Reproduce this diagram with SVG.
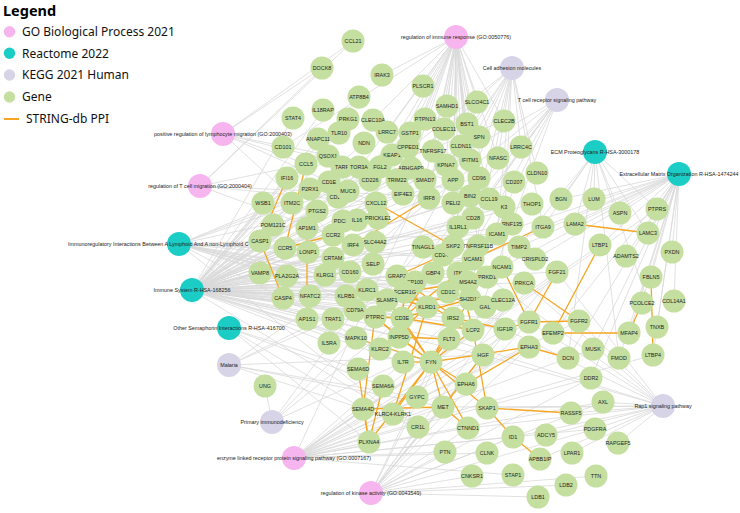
<svg xmlns="http://www.w3.org/2000/svg" width="740" height="513" viewBox="0 0 740 513">
<style>
.e line{stroke:#d9d9d9;stroke-width:0.8}
.p line{stroke:#f5a623;stroke-width:1.3}
.gene circle{fill:#c4df9f}
.go circle{fill:#f7b5ef}
.re circle{fill:#1ccdc6}
.kg circle{fill:#d8d4e8}
text{font-family:"Liberation Sans",Arial,sans-serif;font-size:5.4px;fill:#222;text-anchor:middle}
.lg text{font-family:"Noto Sans","Liberation Sans",sans-serif;font-size:12px;fill:#111;text-anchor:start}
</style>
<rect width="740" height="513" fill="#ffffff"/>
<g id="connectors">
<g class="e" id="edges-term">
<line x1="456" y1="37" x2="423" y2="86"/><line x1="456" y1="37" x2="447" y2="106"/><line x1="456" y1="37" x2="477" y2="102"/><line x1="456" y1="37" x2="467" y2="124"/><line x1="456" y1="37" x2="444" y2="129"/><line x1="456" y1="37" x2="425" y2="119"/><line x1="456" y1="37" x2="410" y2="133"/><line x1="456" y1="37" x2="408" y2="147"/><line x1="456" y1="37" x2="433" y2="151"/><line x1="456" y1="37" x2="461" y2="146"/><line x1="456" y1="37" x2="470" y2="160"/><line x1="456" y1="37" x2="479" y2="137"/><line x1="456" y1="37" x2="446" y2="165"/><line x1="456" y1="37" x2="411" y2="168"/><line x1="456" y1="37" x2="392" y2="155"/><line x1="456" y1="37" x2="387" y2="132"/><line x1="456" y1="37" x2="373" y2="120"/><line x1="456" y1="37" x2="504" y2="121"/><line x1="456" y1="37" x2="498" y2="158"/><line x1="456" y1="37" x2="479" y2="178"/><line x1="456" y1="37" x2="453" y2="180"/><line x1="456" y1="37" x2="470" y2="196"/><line x1="456" y1="37" x2="489" y2="199"/><line x1="456" y1="37" x2="473" y2="218"/><line x1="456" y1="37" x2="458" y2="227"/><line x1="456" y1="37" x2="453" y2="203"/><line x1="456" y1="37" x2="425" y2="180"/><line x1="456" y1="37" x2="397" y2="180"/><line x1="456" y1="37" x2="370" y2="180"/><line x1="456" y1="37" x2="429" y2="198"/><line x1="456" y1="37" x2="478" y2="246"/><line x1="456" y1="37" x2="453" y2="246"/><line x1="456" y1="37" x2="382" y2="75"/><line x1="456" y1="37" x2="338" y2="197"/><line x1="456" y1="37" x2="283" y2="147"/>
<line x1="223" y1="134" x2="353" y2="41"/><line x1="223" y1="134" x2="322" y2="68"/><line x1="223" y1="134" x2="306" y2="164"/><line x1="223" y1="134" x2="489" y2="199"/><line x1="223" y1="134" x2="376" y2="203"/><line x1="223" y1="134" x2="333" y2="235"/><line x1="223" y1="134" x2="453" y2="180"/>
<line x1="200" y1="186" x2="353" y2="41"/><line x1="200" y1="186" x2="322" y2="68"/><line x1="200" y1="186" x2="306" y2="164"/><line x1="200" y1="186" x2="489" y2="199"/><line x1="200" y1="186" x2="376" y2="203"/><line x1="200" y1="186" x2="333" y2="235"/>
<line x1="179" y1="244" x2="479" y2="178"/><line x1="179" y1="244" x2="370" y2="180"/><line x1="179" y1="244" x2="325" y2="275"/><line x1="179" y1="244" x2="346" y2="296"/><line x1="179" y1="244" x2="367" y2="290"/><line x1="179" y1="244" x2="380" y2="349"/><line x1="179" y1="244" x2="427" y2="307"/><line x1="179" y1="244" x2="393" y2="414"/><line x1="179" y1="244" x2="350" y2="272"/><line x1="179" y1="244" x2="333" y2="258"/><line x1="179" y1="244" x2="473" y2="259"/><line x1="179" y1="244" x2="497" y2="234"/><line x1="179" y1="244" x2="448" y2="292"/><line x1="179" y1="244" x2="329" y2="182"/><line x1="179" y1="244" x2="387" y2="300"/><line x1="179" y1="244" x2="402" y2="318"/><line x1="179" y1="244" x2="443" y2="255"/><line x1="179" y1="244" x2="504" y2="121"/><line x1="179" y1="244" x2="405" y2="292"/>
<line x1="192" y1="290" x2="260" y2="241"/><line x1="192" y1="290" x2="285" y2="248"/><line x1="192" y1="290" x2="263" y2="203"/><line x1="192" y1="290" x2="260" y2="273"/><line x1="192" y1="290" x2="287" y2="276"/><line x1="192" y1="290" x2="283" y2="298"/><line x1="192" y1="290" x2="307" y2="228"/><line x1="192" y1="290" x2="307" y2="319"/><line x1="192" y1="290" x2="310" y2="296"/><line x1="192" y1="290" x2="333" y2="319"/><line x1="192" y1="290" x2="273" y2="225"/><line x1="192" y1="290" x2="292" y2="203"/><line x1="192" y1="290" x2="287" y2="178"/><line x1="192" y1="290" x2="308" y2="252"/><line x1="192" y1="290" x2="310" y2="189"/><line x1="192" y1="290" x2="353" y2="245"/><line x1="192" y1="290" x2="429" y2="198"/><line x1="192" y1="290" x2="333" y2="258"/><line x1="192" y1="290" x2="325" y2="275"/><line x1="192" y1="290" x2="346" y2="296"/><line x1="192" y1="290" x2="367" y2="290"/><line x1="192" y1="290" x2="427" y2="307"/><line x1="192" y1="290" x2="350" y2="272"/><line x1="192" y1="290" x2="355" y2="310"/><line x1="192" y1="290" x2="375" y2="317"/><line x1="192" y1="290" x2="402" y2="318"/><line x1="192" y1="290" x2="405" y2="292"/><line x1="192" y1="290" x2="470" y2="299"/><line x1="192" y1="290" x2="468" y2="282"/><line x1="192" y1="290" x2="397" y2="276"/><line x1="192" y1="290" x2="415" y2="282"/><line x1="192" y1="290" x2="433" y2="273"/><line x1="192" y1="290" x2="458" y2="273"/><line x1="192" y1="290" x2="453" y2="246"/><line x1="192" y1="290" x2="473" y2="259"/><line x1="192" y1="290" x2="497" y2="234"/><line x1="192" y1="290" x2="458" y2="227"/><line x1="192" y1="290" x2="473" y2="218"/><line x1="192" y1="290" x2="453" y2="180"/><line x1="192" y1="290" x2="397" y2="180"/><line x1="192" y1="290" x2="370" y2="180"/><line x1="192" y1="290" x2="348" y2="191"/><line x1="192" y1="290" x2="403" y2="194"/><line x1="192" y1="290" x2="411" y2="168"/><line x1="192" y1="290" x2="392" y2="155"/><line x1="192" y1="290" x2="446" y2="165"/><line x1="192" y1="290" x2="408" y2="147"/><line x1="192" y1="290" x2="410" y2="133"/><line x1="192" y1="290" x2="318" y2="139"/><line x1="192" y1="290" x2="328" y2="156"/><line x1="192" y1="290" x2="342" y2="167"/><line x1="192" y1="290" x2="380" y2="167"/><line x1="192" y1="290" x2="339" y2="133"/><line x1="192" y1="290" x2="293" y2="118"/><line x1="192" y1="290" x2="323" y2="110"/><line x1="192" y1="290" x2="375" y2="242"/><line x1="192" y1="290" x2="357" y2="220"/><line x1="192" y1="290" x2="333" y2="235"/><line x1="192" y1="290" x2="376" y2="203"/><line x1="192" y1="290" x2="431" y2="362"/><line x1="192" y1="290" x2="473" y2="330"/><line x1="192" y1="290" x2="399" y2="337"/><line x1="192" y1="290" x2="449" y2="339"/><line x1="192" y1="290" x2="403" y2="362"/><line x1="192" y1="290" x2="329" y2="343"/><line x1="192" y1="290" x2="356" y2="338"/><line x1="192" y1="290" x2="380" y2="349"/><line x1="192" y1="290" x2="524" y2="283"/><line x1="192" y1="290" x2="483" y2="355"/><line x1="192" y1="290" x2="505" y2="329"/><line x1="192" y1="290" x2="453" y2="318"/><line x1="192" y1="290" x2="529" y2="322"/><line x1="192" y1="290" x2="557" y2="272"/><line x1="192" y1="290" x2="393" y2="414"/><line x1="192" y1="290" x2="448" y2="292"/><line x1="192" y1="290" x2="373" y2="264"/><line x1="192" y1="290" x2="453" y2="203"/><line x1="192" y1="290" x2="306" y2="164"/><line x1="192" y1="290" x2="387" y2="300"/><line x1="192" y1="290" x2="503" y2="300"/><line x1="192" y1="290" x2="485" y2="307"/><line x1="192" y1="290" x2="532" y2="204"/><line x1="192" y1="290" x2="514" y2="182"/><line x1="192" y1="290" x2="512" y2="224"/><line x1="192" y1="290" x2="504" y2="207"/><line x1="192" y1="290" x2="348" y2="119"/><line x1="192" y1="290" x2="364" y2="143"/><line x1="192" y1="290" x2="359" y2="97"/><line x1="192" y1="290" x2="317" y2="211"/><line x1="192" y1="290" x2="359" y2="167"/><line x1="192" y1="290" x2="343" y2="221"/><line x1="192" y1="290" x2="378" y2="218"/>
<line x1="229" y1="328" x2="363" y2="409"/><line x1="229" y1="328" x2="383" y2="386"/><line x1="229" y1="328" x2="358" y2="369"/><line x1="229" y1="328" x2="369" y2="442"/>
<line x1="229" y1="365" x2="417" y2="397"/><line x1="229" y1="365" x2="418" y2="427"/><line x1="229" y1="365" x2="483" y2="355"/><line x1="229" y1="365" x2="443" y2="407"/><line x1="229" y1="365" x2="497" y2="234"/><line x1="229" y1="365" x2="473" y2="259"/><line x1="229" y1="365" x2="373" y2="264"/>
<line x1="272" y1="422" x2="265" y2="386"/><line x1="272" y1="422" x2="402" y2="318"/><line x1="272" y1="422" x2="375" y2="317"/><line x1="272" y1="422" x2="403" y2="362"/><line x1="272" y1="422" x2="355" y2="310"/>
<line x1="294" y1="458" x2="529" y2="322"/><line x1="294" y1="458" x2="579" y2="321"/><line x1="294" y1="458" x2="557" y2="272"/><line x1="294" y1="458" x2="505" y2="329"/><line x1="294" y1="458" x2="453" y2="318"/><line x1="294" y1="458" x2="529" y2="347"/><line x1="294" y1="458" x2="466" y2="384"/><line x1="294" y1="458" x2="443" y2="407"/><line x1="294" y1="458" x2="483" y2="355"/><line x1="294" y1="458" x2="595" y2="429"/><line x1="294" y1="458" x2="591" y2="378"/><line x1="294" y1="458" x2="603" y2="402"/><line x1="294" y1="458" x2="593" y2="349"/><line x1="294" y1="458" x2="449" y2="339"/><line x1="294" y1="458" x2="425" y2="180"/><line x1="294" y1="458" x2="600" y2="245"/><line x1="294" y1="458" x2="653" y2="355"/><line x1="294" y1="458" x2="657" y2="209"/><line x1="294" y1="458" x2="445" y2="452"/><line x1="294" y1="458" x2="513" y2="437"/><line x1="294" y1="458" x2="468" y2="428"/><line x1="294" y1="458" x2="369" y2="442"/><line x1="294" y1="458" x2="363" y2="409"/><line x1="294" y1="458" x2="513" y2="475"/><line x1="294" y1="458" x2="487" y2="453"/>
<line x1="371" y1="493" x2="445" y2="452"/><line x1="371" y1="493" x2="472" y2="476"/><line x1="371" y1="493" x2="443" y2="407"/><line x1="371" y1="493" x2="483" y2="355"/><line x1="371" y1="493" x2="529" y2="322"/><line x1="371" y1="493" x2="557" y2="272"/><line x1="371" y1="493" x2="505" y2="329"/><line x1="371" y1="493" x2="453" y2="318"/><line x1="371" y1="493" x2="529" y2="347"/><line x1="371" y1="493" x2="524" y2="283"/><line x1="371" y1="493" x2="595" y2="429"/><line x1="371" y1="493" x2="449" y2="339"/><line x1="371" y1="493" x2="603" y2="402"/><line x1="371" y1="493" x2="591" y2="378"/><line x1="371" y1="493" x2="468" y2="428"/><line x1="371" y1="493" x2="513" y2="437"/><line x1="371" y1="493" x2="418" y2="427"/><line x1="371" y1="493" x2="538" y2="497"/><line x1="371" y1="493" x2="566" y2="485"/><line x1="371" y1="493" x2="596" y2="476"/>
<line x1="663" y1="406" x2="529" y2="322"/><line x1="663" y1="406" x2="579" y2="321"/><line x1="663" y1="406" x2="557" y2="272"/><line x1="663" y1="406" x2="524" y2="283"/><line x1="663" y1="406" x2="487" y2="277"/><line x1="663" y1="406" x2="483" y2="355"/><line x1="663" y1="406" x2="443" y2="407"/><line x1="663" y1="406" x2="505" y2="329"/><line x1="663" y1="406" x2="571" y2="413"/><line x1="663" y1="406" x2="595" y2="429"/><line x1="663" y1="406" x2="618" y2="443"/><line x1="663" y1="406" x2="572" y2="453"/><line x1="663" y1="406" x2="546" y2="435"/><line x1="663" y1="406" x2="540" y2="459"/><line x1="663" y1="406" x2="513" y2="437"/><line x1="663" y1="406" x2="487" y2="408"/><line x1="663" y1="406" x2="449" y2="339"/><line x1="663" y1="406" x2="468" y2="428"/><line x1="663" y1="406" x2="603" y2="402"/>
<line x1="595" y1="152" x2="561" y2="199"/><line x1="595" y1="152" x2="594" y2="199"/><line x1="595" y1="152" x2="620" y2="213"/><line x1="595" y1="152" x2="575" y2="224"/><line x1="595" y1="152" x2="648" y2="233"/><line x1="595" y1="152" x2="568" y2="358"/><line x1="595" y1="152" x2="619" y2="358"/><line x1="595" y1="152" x2="543" y2="227"/><line x1="595" y1="152" x2="657" y2="327"/><line x1="595" y1="152" x2="657" y2="209"/><line x1="595" y1="152" x2="502" y2="267"/>
<line x1="679" y1="174" x2="561" y2="199"/><line x1="679" y1="174" x2="594" y2="199"/><line x1="679" y1="174" x2="620" y2="213"/><line x1="679" y1="174" x2="657" y2="209"/><line x1="679" y1="174" x2="575" y2="224"/><line x1="679" y1="174" x2="648" y2="233"/><line x1="679" y1="174" x2="600" y2="245"/><line x1="679" y1="174" x2="626" y2="256"/><line x1="679" y1="174" x2="672" y2="252"/><line x1="679" y1="174" x2="651" y2="277"/><line x1="679" y1="174" x2="674" y2="301"/><line x1="679" y1="174" x2="657" y2="327"/><line x1="679" y1="174" x2="642" y2="303"/><line x1="679" y1="174" x2="629" y2="333"/><line x1="679" y1="174" x2="653" y2="355"/><line x1="679" y1="174" x2="553" y2="333"/><line x1="679" y1="174" x2="568" y2="358"/><line x1="679" y1="174" x2="619" y2="358"/><line x1="679" y1="174" x2="591" y2="378"/><line x1="679" y1="174" x2="593" y2="349"/><line x1="679" y1="174" x2="519" y2="247"/><line x1="679" y1="174" x2="543" y2="227"/><line x1="679" y1="174" x2="473" y2="259"/><line x1="679" y1="174" x2="497" y2="234"/><line x1="679" y1="174" x2="502" y2="267"/><line x1="679" y1="174" x2="535" y2="259"/>
<line x1="512" y1="68" x2="461" y2="146"/><line x1="512" y1="68" x2="537" y2="173"/><line x1="512" y1="68" x2="479" y2="137"/><line x1="512" y1="68" x2="498" y2="158"/><line x1="512" y1="68" x2="521" y2="147"/><line x1="512" y1="68" x2="370" y2="180"/><line x1="512" y1="68" x2="473" y2="259"/><line x1="512" y1="68" x2="497" y2="234"/><line x1="512" y1="68" x2="502" y2="267"/><line x1="512" y1="68" x2="373" y2="264"/><line x1="512" y1="68" x2="473" y2="218"/><line x1="512" y1="68" x2="375" y2="317"/><line x1="512" y1="68" x2="343" y2="221"/><line x1="512" y1="68" x2="543" y2="227"/><line x1="512" y1="68" x2="443" y2="255"/>
<line x1="557" y1="100" x2="473" y2="218"/><line x1="557" y1="100" x2="402" y2="318"/><line x1="557" y1="100" x2="473" y2="330"/><line x1="557" y1="100" x2="431" y2="362"/><line x1="557" y1="100" x2="375" y2="317"/><line x1="557" y1="100" x2="310" y2="296"/><line x1="557" y1="100" x2="458" y2="273"/><line x1="557" y1="100" x2="397" y2="276"/><line x1="557" y1="100" x2="343" y2="221"/><line x1="557" y1="100" x2="443" y2="255"/>
</g>
<g class="p" id="edges-ppi">
<line x1="287" y1="178" x2="260" y2="241"/><line x1="260" y1="241" x2="283" y2="298"/><line x1="306" y1="164" x2="285" y2="248"/><line x1="285" y1="248" x2="333" y2="235"/><line x1="307" y1="228" x2="307" y2="319"/><line x1="353" y1="245" x2="429" y2="198"/><line x1="376" y1="203" x2="453" y2="246"/><line x1="397" y1="276" x2="443" y2="255"/><line x1="397" y1="276" x2="473" y2="330"/><line x1="367" y1="290" x2="427" y2="307"/><line x1="380" y1="349" x2="427" y2="307"/><line x1="427" y1="307" x2="405" y2="292"/><line x1="427" y1="307" x2="393" y2="414"/>
<line x1="431" y1="362" x2="402" y2="318"/><line x1="431" y1="362" x2="375" y2="317"/><line x1="431" y1="362" x2="473" y2="330"/><line x1="431" y1="362" x2="403" y2="362"/><line x1="431" y1="362" x2="399" y2="337"/><line x1="431" y1="362" x2="449" y2="339"/><line x1="431" y1="362" x2="470" y2="299"/><line x1="431" y1="362" x2="487" y2="408"/><line x1="431" y1="362" x2="529" y2="347"/><line x1="431" y1="362" x2="466" y2="384"/><line x1="431" y1="362" x2="443" y2="407"/><line x1="431" y1="362" x2="393" y2="414"/><line x1="431" y1="362" x2="468" y2="428"/><line x1="431" y1="362" x2="453" y2="318"/><line x1="431" y1="362" x2="387" y2="300"/><line x1="431" y1="362" x2="369" y2="442"/><line x1="431" y1="362" x2="356" y2="338"/>
<line x1="402" y1="318" x2="375" y2="317"/><line x1="402" y1="318" x2="473" y2="330"/><line x1="402" y1="318" x2="405" y2="292"/><line x1="402" y1="318" x2="470" y2="299"/><line x1="402" y1="318" x2="458" y2="273"/><line x1="402" y1="318" x2="443" y2="255"/><line x1="375" y1="317" x2="355" y2="310"/><line x1="375" y1="317" x2="399" y2="337"/><line x1="375" y1="317" x2="363" y2="409"/><line x1="473" y1="330" x2="458" y2="273"/><line x1="473" y1="330" x2="487" y2="408"/><line x1="473" y1="330" x2="405" y2="292"/><line x1="399" y1="337" x2="449" y2="339"/><line x1="399" y1="337" x2="405" y2="292"/><line x1="468" y1="282" x2="405" y2="292"/><line x1="470" y1="299" x2="387" y2="300"/><line x1="453" y1="318" x2="505" y2="329"/><line x1="505" y1="329" x2="529" y2="322"/>
<line x1="483" y1="355" x2="443" y2="407"/><line x1="443" y1="407" x2="468" y2="428"/><line x1="443" y1="407" x2="363" y2="409"/><line x1="529" y1="347" x2="466" y2="384"/><line x1="529" y1="347" x2="568" y2="358"/><line x1="487" y1="408" x2="571" y2="413"/><line x1="487" y1="408" x2="513" y2="437"/><line x1="513" y1="437" x2="540" y2="459"/><line x1="358" y1="369" x2="369" y2="442"/><line x1="383" y1="386" x2="369" y2="442"/><line x1="363" y1="409" x2="369" y2="442"/>
<line x1="575" y1="224" x2="648" y2="233"/><line x1="543" y1="227" x2="473" y2="259"/><line x1="502" y1="267" x2="529" y2="322"/><line x1="557" y1="272" x2="529" y2="322"/><line x1="529" y1="322" x2="579" y2="321"/><line x1="524" y1="283" x2="579" y2="321"/><line x1="600" y1="245" x2="553" y2="333"/><line x1="553" y1="333" x2="629" y2="333"/><line x1="642" y1="303" x2="629" y2="333"/><line x1="651" y1="277" x2="653" y2="355"/>
</g>
</g>
<g id="terms">
<g id="t-go-0050776" class="go"><circle cx="456" cy="37" r="12"/><text x="456" y="39">regulation of immune response (GO:0050776)</text></g>
<g id="t-go-2000403" class="go"><circle cx="223" cy="134" r="12"/><text x="223" y="136">positive regulation of lymphocyte migration (GO:2000403)</text></g>
<g id="t-go-2000404" class="go"><circle cx="200" cy="186" r="12"/><text x="200" y="188">regulation of T cell migration (GO:2000404)</text></g>
<g id="t-go-0007167" class="go"><circle cx="294" cy="458" r="12"/><text x="294" y="460">enzyme linked receptor protein signaling pathway (GO:0007167)</text></g>
<g id="t-go-0043549" class="go"><circle cx="371" cy="493" r="12"/><text x="371" y="495">regulation of kinase activity (GO:0043549)</text></g>
<g id="t-r-3000178" class="re"><circle cx="595" cy="152" r="12"/><text x="595" y="154">ECM Proteoglycans R-HSA-3000178</text></g>
<g id="t-r-1474244" class="re"><circle cx="679" cy="174" r="12"/><text x="679" y="176">Extracellular Matrix Organization R-HSA-1474244</text></g>
<g id="t-r-immunoreg" class="re"><circle cx="179" cy="244" r="12"/><text x="68" y="246" style="text-anchor:start">Immunoregulatory Interactions Between A Lymphoid And A non-Lymphoid C</text></g>
<g id="t-r-168256" class="re"><circle cx="192" cy="290" r="12"/><text x="192" y="292">Immune System R-HSA-168256</text></g>
<g id="t-r-416700" class="re"><circle cx="229" cy="328" r="12"/><text x="229" y="330">Other Semaphorin Interactions R-HSA-416700</text></g>
<g id="t-k-cam" class="kg"><circle cx="512" cy="68" r="12"/><text x="512" y="70">Cell adhesion molecules</text></g>
<g id="t-k-tcr" class="kg"><circle cx="557" cy="100" r="12"/><text x="557" y="102">T cell receptor signaling pathway</text></g>
<g id="t-k-malaria" class="kg"><circle cx="229" cy="365" r="12"/><text x="229" y="367">Malaria</text></g>
<g id="t-k-pid" class="kg"><circle cx="272" cy="422" r="12"/><text x="272" y="424">Primary immunodeficiency</text></g>
<g id="t-k-rap1" class="kg"><circle cx="663" cy="406" r="12"/><text x="663" y="408">Rap1 signaling pathway</text></g>
</g>
<g id="genes" class="gene">
<g id="n-CCL21"><circle cx="353" cy="41" r="11.5"/><text x="353" y="43">CCL21</text></g>
<g id="n-DOCK8"><circle cx="322" cy="68" r="11.5"/><text x="322" y="70">DOCK8</text></g>
<g id="n-IRAK3"><circle cx="382" cy="75" r="11.5"/><text x="382" y="77">IRAK3</text></g>
<g id="n-PLSCR1"><circle cx="423" cy="86" r="11.5"/><text x="423" y="88">PLSCR1</text></g>
<g id="n-ATP8B4"><circle cx="359" cy="97" r="11.5"/><text x="359" y="99">ATP8B4</text></g>
<g id="n-SAMHD1"><circle cx="447" cy="106" r="11.5"/><text x="447" y="108">SAMHD1</text></g>
<g id="n-SLCO4C1"><circle cx="477" cy="102" r="11.5"/><text x="477" y="104">SLCO4C1</text></g>
<g id="n-IL18RAP"><circle cx="323" cy="110" r="11.5"/><text x="323" y="112">IL18RAP</text></g>
<g id="n-STAT4"><circle cx="293" cy="118" r="11.5"/><text x="293" y="120">STAT4</text></g>
<g id="n-PRKG1"><circle cx="348" cy="119" r="11.5"/><text x="348" y="121">PRKG1</text></g>
<g id="n-CLEC10A"><circle cx="373" cy="120" r="11.5"/><text x="373" y="122">CLEC10A</text></g>
<g id="n-PTPN13"><circle cx="425" cy="119" r="11.5"/><text x="425" y="121">PTPN13</text></g>
<g id="n-CLEC2B"><circle cx="504" cy="121" r="11.5"/><text x="504" y="123">CLEC2B</text></g>
<g id="n-BST1"><circle cx="467" cy="124" r="11.5"/><text x="467" y="126">BST1</text></g>
<g id="n-COLEC11"><circle cx="444" cy="129" r="11.5"/><text x="444" y="131">COLEC11</text></g>
<g id="n-TLR10"><circle cx="339" cy="133" r="11.5"/><text x="339" y="135">TLR10</text></g>
<g id="n-LRRC7"><circle cx="387" cy="132" r="11.5"/><text x="387" y="134">LRRC7</text></g>
<g id="n-GSTP1"><circle cx="410" cy="133" r="11.5"/><text x="410" y="135">GSTP1</text></g>
<g id="n-SPN"><circle cx="479" cy="137" r="11.5"/><text x="479" y="139">SPN</text></g>
<g id="n-ANAPC11"><circle cx="318" cy="139" r="11.5"/><text x="318" y="141">ANAPC11</text></g>
<g id="n-NDN"><circle cx="364" cy="143" r="11.5"/><text x="364" y="145">NDN</text></g>
<g id="n-CD101"><circle cx="283" cy="147" r="11.5"/><text x="283" y="149">CD101</text></g>
<g id="n-CLDN11"><circle cx="461" cy="146" r="11.5"/><text x="461" y="148">CLDN11</text></g>
<g id="n-KEAP1"><circle cx="392" cy="155" r="11.5"/><text x="392" y="157">KEAP1</text></g>
<g id="n-CPPED1"><circle cx="408" cy="147" r="11.5"/><text x="408" y="149">CPPED1</text></g>
<g id="n-LRRC4C"><circle cx="521" cy="147" r="11.5"/><text x="521" y="149">LRRC4C</text></g>
<g id="n-TNFRSF17"><circle cx="433" cy="151" r="11.5"/><text x="433" y="153">TNFRSF17</text></g>
<g id="n-QSOX1"><circle cx="328" cy="156" r="11.5"/><text x="328" y="158">QSOX1</text></g>
<g id="n-NFASC"><circle cx="498" cy="158" r="11.5"/><text x="498" y="160">NFASC</text></g>
<g id="n-IFITM1"><circle cx="470" cy="160" r="11.5"/><text x="470" y="162">IFITM1</text></g>
<g id="n-CCL5"><circle cx="306" cy="164" r="11.5"/><text x="306" y="166">CCL5</text></g>
<g id="n-KPNA7"><circle cx="446" cy="165" r="11.5"/><text x="446" y="167">KPNA7</text></g>
<g id="n-TARP"><circle cx="342" cy="167" r="11.5"/><text x="342" y="169">TARP</text></g>
<g id="n-TOR3A"><circle cx="359" cy="167" r="11.5"/><text x="359" y="169">TOR3A</text></g>
<g id="n-FGL2"><circle cx="380" cy="167" r="11.5"/><text x="380" y="169">FGL2</text></g>
<g id="n-ARHGAP9"><circle cx="411" cy="168" r="11.5"/><text x="411" y="170">ARHGAP9</text></g>
<g id="n-CLDN10"><circle cx="537" cy="173" r="11.5"/><text x="537" y="175">CLDN10</text></g>
<g id="n-CD96"><circle cx="479" cy="178" r="11.5"/><text x="479" y="180">CD96</text></g>
<g id="n-IFI16"><circle cx="287" cy="178" r="11.5"/><text x="287" y="180">IFI16</text></g>
<g id="n-CD226"><circle cx="370" cy="180" r="11.5"/><text x="370" y="182">CD226</text></g>
<g id="n-TRIM22"><circle cx="397" cy="180" r="11.5"/><text x="397" y="182">TRIM22</text></g>
<g id="n-SMAD7"><circle cx="425" cy="180" r="11.5"/><text x="425" y="182">SMAD7</text></g>
<g id="n-APP"><circle cx="453" cy="180" r="11.5"/><text x="453" y="182">APP</text></g>
<g id="n-CD1E"><circle cx="329" cy="182" r="11.5"/><text x="329" y="184">CD1E</text></g>
<g id="n-CD207"><circle cx="514" cy="182" r="11.5"/><text x="514" y="184">CD207</text></g>
<g id="n-P2RX1"><circle cx="310" cy="189" r="11.5"/><text x="310" y="191">P2RX1</text></g>
<g id="n-CD200"><circle cx="338" cy="197" r="11.5"/><text x="338" y="199">CD200</text></g>
<g id="n-MUC6"><circle cx="348" cy="191" r="11.5"/><text x="348" y="193">MUC6</text></g>
<g id="n-EIF4E3"><circle cx="403" cy="194" r="11.5"/><text x="403" y="196">EIF4E3</text></g>
<g id="n-BIN2"><circle cx="470" cy="196" r="11.5"/><text x="470" y="198">BIN2</text></g>
<g id="n-PELI2"><circle cx="453" cy="203" r="11.5"/><text x="453" y="205">PELI2</text></g>
<g id="n-IRF8"><circle cx="429" cy="198" r="11.5"/><text x="429" y="200">IRF8</text></g>
<g id="n-K3"><circle cx="504" cy="207" r="11.5"/><text x="504" y="209">K3</text></g>
<g id="n-CCL19"><circle cx="489" cy="199" r="11.5"/><text x="489" y="201">CCL19</text></g>
<g id="n-BGN"><circle cx="561" cy="199" r="11.5"/><text x="561" y="201">BGN</text></g>
<g id="n-LUM"><circle cx="594" cy="199" r="11.5"/><text x="594" y="201">LUM</text></g>
<g id="n-WSB1"><circle cx="263" cy="203" r="11.5"/><text x="263" y="205">WSB1</text></g>
<g id="n-ITM2C"><circle cx="292" cy="203" r="11.5"/><text x="292" y="205">ITM2C</text></g>
<g id="n-CXCL12"><circle cx="376" cy="203" r="11.5"/><text x="376" y="205">CXCL12</text></g>
<g id="n-THOP1"><circle cx="532" cy="204" r="11.5"/><text x="532" y="206">THOP1</text></g>
<g id="n-PTGS2"><circle cx="317" cy="211" r="11.5"/><text x="317" y="213">PTGS2</text></g>
<g id="n-ASPN"><circle cx="620" cy="213" r="11.5"/><text x="620" y="215">ASPN</text></g>
<g id="n-PTPRS"><circle cx="657" cy="209" r="11.5"/><text x="657" y="211">PTPRS</text></g>
<g id="n-CD28"><circle cx="473" cy="218" r="11.5"/><text x="473" y="220">CD28</text></g>
<g id="n-PDCD1"><circle cx="343" cy="221" r="11.5"/><text x="343" y="223">PDCD1</text></g>
<g id="n-IL16"><circle cx="357" cy="220" r="11.5"/><text x="357" y="222">IL16</text></g>
<g id="n-PRICKLE1"><circle cx="378" cy="218" r="11.5"/><text x="378" y="220">PRICKLE1</text></g>
<g id="n-RNF135"><circle cx="512" cy="224" r="11.5"/><text x="512" y="226">RNF135</text></g>
<g id="n-POM121C"><circle cx="273" cy="225" r="11.5"/><text x="273" y="227">POM121C</text></g>
<g id="n-LAMA2"><circle cx="575" cy="224" r="11.5"/><text x="575" y="226">LAMA2</text></g>
<g id="n-ITGA9"><circle cx="543" cy="227" r="11.5"/><text x="543" y="229">ITGA9</text></g>
<g id="n-IL1RL1"><circle cx="458" cy="227" r="11.5"/><text x="458" y="229">IL1RL1</text></g>
<g id="n-AP1M1"><circle cx="307" cy="228" r="11.5"/><text x="307" y="230">AP1M1</text></g>
<g id="n-LAMC3"><circle cx="648" cy="233" r="11.5"/><text x="648" y="235">LAMC3</text></g>
<g id="n-ICAM1"><circle cx="497" cy="234" r="11.5"/><text x="497" y="236">ICAM1</text></g>
<g id="n-CCR2"><circle cx="333" cy="235" r="11.5"/><text x="333" y="237">CCR2</text></g>
<g id="n-CASP1"><circle cx="260" cy="241" r="11.5"/><text x="260" y="243">CASP1</text></g>
<g id="n-SLC44A2"><circle cx="375" cy="242" r="11.5"/><text x="375" y="244">SLC44A2</text></g>
<g id="n-IRF4"><circle cx="353" cy="245" r="11.5"/><text x="353" y="247">IRF4</text></g>
<g id="n-LTBP1"><circle cx="600" cy="245" r="11.5"/><text x="600" y="247">LTBP1</text></g>
<g id="n-CD247"><circle cx="443" cy="255" r="11.5"/><text x="443" y="257">CD247</text></g>
<g id="n-TNFRSF11B"><circle cx="478" cy="246" r="11.5"/><text x="478" y="248">TNFRSF11B</text></g>
<g id="n-SKP2"><circle cx="453" cy="246" r="11.5"/><text x="453" y="248">SKP2</text></g>
<g id="n-TINAGL1"><circle cx="423" cy="247" r="11.5"/><text x="423" y="249">TINAGL1</text></g>
<g id="n-TIMP2"><circle cx="519" cy="247" r="11.5"/><text x="519" y="249">TIMP2</text></g>
<g id="n-CCR5"><circle cx="285" cy="248" r="11.5"/><text x="285" y="250">CCR5</text></g>
<g id="n-LONP1"><circle cx="308" cy="252" r="11.5"/><text x="308" y="254">LONP1</text></g>
<g id="n-PXDN"><circle cx="672" cy="252" r="11.5"/><text x="672" y="254">PXDN</text></g>
<g id="n-ADAMTS2"><circle cx="626" cy="256" r="11.5"/><text x="626" y="258">ADAMTS2</text></g>
<g id="n-CRTAM"><circle cx="333" cy="258" r="11.5"/><text x="333" y="260">CRTAM</text></g>
<g id="n-VCAM1"><circle cx="473" cy="259" r="11.5"/><text x="473" y="261">VCAM1</text></g>
<g id="n-CRISPLD2"><circle cx="535" cy="259" r="11.5"/><text x="535" y="261">CRISPLD2</text></g>
<g id="n-SELP"><circle cx="373" cy="264" r="11.5"/><text x="373" y="266">SELP</text></g>
<g id="n-PRKD1"><circle cx="487" cy="277" r="11.5"/><text x="487" y="279">PRKD1</text></g>
<g id="n-NCAM1"><circle cx="502" cy="267" r="11.5"/><text x="502" y="269">NCAM1</text></g>
<g id="n-CD160"><circle cx="350" cy="272" r="11.5"/><text x="350" y="274">CD160</text></g>
<g id="n-FGF21"><circle cx="557" cy="272" r="11.5"/><text x="557" y="274">FGF21</text></g>
<g id="n-VAMP8"><circle cx="260" cy="273" r="11.5"/><text x="260" y="275">VAMP8</text></g>
<g id="n-ITK"><circle cx="458" cy="273" r="11.5"/><text x="458" y="275">ITK</text></g>
<g id="n-GBP4"><circle cx="433" cy="273" r="11.5"/><text x="433" y="275">GBP4</text></g>
<g id="n-KLRG1"><circle cx="325" cy="275" r="11.5"/><text x="325" y="277">KLRG1</text></g>
<g id="n-PLA2G2A"><circle cx="287" cy="276" r="11.5"/><text x="287" y="278">PLA2G2A</text></g>
<g id="n-GRAP2"><circle cx="397" cy="276" r="11.5"/><text x="397" y="278">GRAP2</text></g>
<g id="n-FBLN5"><circle cx="651" cy="277" r="11.5"/><text x="651" y="279">FBLN5</text></g>
<g id="n-MS4A2"><circle cx="468" cy="282" r="11.5"/><text x="468" y="284">MS4A2</text></g>
<g id="n-SP100"><circle cx="415" cy="282" r="11.5"/><text x="415" y="284">SP100</text></g>
<g id="n-PRKCA"><circle cx="524" cy="283" r="11.5"/><text x="524" y="285">PRKCA</text></g>
<g id="n-KLRC1"><circle cx="367" cy="290" r="11.5"/><text x="367" y="292">KLRC1</text></g>
<g id="n-FCER1G"><circle cx="405" cy="292" r="11.5"/><text x="405" y="294">FCER1G</text></g>
<g id="n-CD1C"><circle cx="448" cy="292" r="11.5"/><text x="448" y="294">CD1C</text></g>
<g id="n-KLRB1"><circle cx="346" cy="296" r="11.5"/><text x="346" y="298">KLRB1</text></g>
<g id="n-NFATC2"><circle cx="310" cy="296" r="11.5"/><text x="310" y="298">NFATC2</text></g>
<g id="n-CASP4"><circle cx="283" cy="298" r="11.5"/><text x="283" y="300">CASP4</text></g>
<g id="n-SH2D1A"><circle cx="470" cy="299" r="11.5"/><text x="470" y="301">SH2D1A</text></g>
<g id="n-GAL"><circle cx="485" cy="307" r="11.5"/><text x="485" y="309">GAL</text></g>
<g id="n-CLEC12A"><circle cx="503" cy="300" r="11.5"/><text x="503" y="302">CLEC12A</text></g>
<g id="n-SLAMF1"><circle cx="387" cy="300" r="11.5"/><text x="387" y="302">SLAMF1</text></g>
<g id="n-COL14A1"><circle cx="674" cy="301" r="11.5"/><text x="674" y="303">COL14A1</text></g>
<g id="n-PCOLCE2"><circle cx="642" cy="303" r="11.5"/><text x="642" y="305">PCOLCE2</text></g>
<g id="n-KLRD1"><circle cx="427" cy="307" r="11.5"/><text x="427" y="309">KLRD1</text></g>
<g id="n-CD79A"><circle cx="355" cy="310" r="11.5"/><text x="355" y="312">CD79A</text></g>
<g id="n-PTPRC"><circle cx="375" cy="317" r="11.5"/><text x="375" y="319">PTPRC</text></g>
<g id="n-CD3E"><circle cx="402" cy="318" r="11.5"/><text x="402" y="320">CD3E</text></g>
<g id="n-IRS2"><circle cx="453" cy="318" r="11.5"/><text x="453" y="320">IRS2</text></g>
<g id="n-AP1S1"><circle cx="307" cy="319" r="11.5"/><text x="307" y="321">AP1S1</text></g>
<g id="n-TRAT1"><circle cx="333" cy="319" r="11.5"/><text x="333" y="321">TRAT1</text></g>
<g id="n-FGFR2"><circle cx="579" cy="321" r="11.5"/><text x="579" y="323">FGFR2</text></g>
<g id="n-FGFR1"><circle cx="529" cy="322" r="11.5"/><text x="529" y="324">FGFR1</text></g>
<g id="n-TNXB"><circle cx="657" cy="327" r="11.5"/><text x="657" y="329">TNXB</text></g>
<g id="n-IGF1R"><circle cx="505" cy="329" r="11.5"/><text x="505" y="331">IGF1R</text></g>
<g id="n-LCP2"><circle cx="473" cy="330" r="11.5"/><text x="473" y="332">LCP2</text></g>
<g id="n-EFEMP2"><circle cx="553" cy="333" r="11.5"/><text x="553" y="335">EFEMP2</text></g>
<g id="n-MFAP4"><circle cx="629" cy="333" r="11.5"/><text x="629" y="335">MFAP4</text></g>
<g id="n-INPP5D"><circle cx="399" cy="337" r="11.5"/><text x="399" y="339">INPP5D</text></g>
<g id="n-MAPK10"><circle cx="356" cy="338" r="11.5"/><text x="356" y="340">MAPK10</text></g>
<g id="n-FLT3"><circle cx="449" cy="339" r="11.5"/><text x="449" y="341">FLT3</text></g>
<g id="n-IL5RA"><circle cx="329" cy="343" r="11.5"/><text x="329" y="345">IL5RA</text></g>
<g id="n-EPHA3"><circle cx="529" cy="347" r="11.5"/><text x="529" y="349">EPHA3</text></g>
<g id="n-KLRC2"><circle cx="380" cy="349" r="11.5"/><text x="380" y="351">KLRC2</text></g>
<g id="n-MUSK"><circle cx="593" cy="349" r="11.5"/><text x="593" y="351">MUSK</text></g>
<g id="n-HGF"><circle cx="483" cy="355" r="11.5"/><text x="483" y="357">HGF</text></g>
<g id="n-LTBP4"><circle cx="653" cy="355" r="11.5"/><text x="653" y="357">LTBP4</text></g>
<g id="n-DCN"><circle cx="568" cy="358" r="11.5"/><text x="568" y="360">DCN</text></g>
<g id="n-FMOD"><circle cx="619" cy="358" r="11.5"/><text x="619" y="360">FMOD</text></g>
<g id="n-IL7R"><circle cx="403" cy="362" r="11.5"/><text x="403" y="364">IL7R</text></g>
<g id="n-FYN"><circle cx="431" cy="362" r="11.5"/><text x="431" y="364">FYN</text></g>
<g id="n-SEMA6D"><circle cx="358" cy="369" r="11.5"/><text x="358" y="371">SEMA6D</text></g>
<g id="n-DDR2"><circle cx="591" cy="378" r="11.5"/><text x="591" y="380">DDR2</text></g>
<g id="n-EPHA6"><circle cx="466" cy="384" r="11.5"/><text x="466" y="386">EPHA6</text></g>
<g id="n-SEMA6A"><circle cx="383" cy="386" r="11.5"/><text x="383" y="388">SEMA6A</text></g>
<g id="n-UNG"><circle cx="265" cy="386" r="11.5"/><text x="265" y="388">UNG</text></g>
<g id="n-GYPC"><circle cx="417" cy="397" r="11.5"/><text x="417" y="399">GYPC</text></g>
<g id="n-AXL"><circle cx="603" cy="402" r="11.5"/><text x="603" y="404">AXL</text></g>
<g id="n-MET"><circle cx="443" cy="407" r="11.5"/><text x="443" y="409">MET</text></g>
<g id="n-SKAP1"><circle cx="487" cy="408" r="11.5"/><text x="487" y="410">SKAP1</text></g>
<g id="n-SEMA4D"><circle cx="363" cy="409" r="11.5"/><text x="363" y="411">SEMA4D</text></g>
<g id="n-KLRC4-KLRK1"><circle cx="393" cy="414" r="11.5"/><text x="393" y="416">KLRC4-KLRK1</text></g>
<g id="n-RASSF5"><circle cx="571" cy="413" r="11.5"/><text x="571" y="415">RASSF5</text></g>
<g id="n-CR1L"><circle cx="418" cy="427" r="11.5"/><text x="418" y="429">CR1L</text></g>
<g id="n-CTNND1"><circle cx="468" cy="428" r="11.5"/><text x="468" y="430">CTNND1</text></g>
<g id="n-PDGFRA"><circle cx="595" cy="429" r="11.5"/><text x="595" y="431">PDGFRA</text></g>
<g id="n-ADCY5"><circle cx="546" cy="435" r="11.5"/><text x="546" y="437">ADCY5</text></g>
<g id="n-ID1"><circle cx="513" cy="437" r="11.5"/><text x="513" y="439">ID1</text></g>
<g id="n-PLXNA4"><circle cx="369" cy="442" r="11.5"/><text x="369" y="444">PLXNA4</text></g>
<g id="n-RAPGEF5"><circle cx="618" cy="443" r="11.5"/><text x="618" y="445">RAPGEF5</text></g>
<g id="n-PTN"><circle cx="445" cy="452" r="11.5"/><text x="445" y="454">PTN</text></g>
<g id="n-CLNK"><circle cx="487" cy="453" r="11.5"/><text x="487" y="455">CLNK</text></g>
<g id="n-LPAR1"><circle cx="572" cy="453" r="11.5"/><text x="572" y="455">LPAR1</text></g>
<g id="n-APBB1IP"><circle cx="540" cy="459" r="11.5"/><text x="540" y="461">APBB1IP</text></g>
<g id="n-CNKSR1"><circle cx="472" cy="476" r="11.5"/><text x="472" y="478">CNKSR1</text></g>
<g id="n-STAP1"><circle cx="513" cy="475" r="11.5"/><text x="513" y="477">STAP1</text></g>
<g id="n-TTN"><circle cx="596" cy="476" r="11.5"/><text x="596" y="478">TTN</text></g>
<g id="n-LDB2"><circle cx="566" cy="485" r="11.5"/><text x="566" y="487">LDB2</text></g>
<g id="n-LDB1"><circle cx="538" cy="497" r="11.5"/><text x="538" y="499">LDB1</text></g>
</g>
<g id="legend" class="lg">
<text x="3" y="15.5" style="font-size:14.5px;font-weight:bold;fill:#000">Legend</text>
<circle cx="9.5" cy="31.7" r="5.7" fill="#f7b5ef"/><text x="22" y="36">GO Biological Process 2021</text>
<circle cx="9.5" cy="53.3" r="5.7" fill="#1ccdc6"/><text x="22" y="57.6">Reactome 2022</text>
<circle cx="9.5" cy="75" r="5.7" fill="#d8d4e8"/><text x="22" y="79.3">KEGG 2021 Human</text>
<circle cx="9.5" cy="97" r="5.7" fill="#c4df9f"/><text x="22" y="101.3">Gene</text>
<line x1="4" y1="119" x2="19" y2="119" stroke="#f5a623" stroke-width="2"/><text x="26" y="123.3">STRING-db PPI</text>
</g>
</svg>
